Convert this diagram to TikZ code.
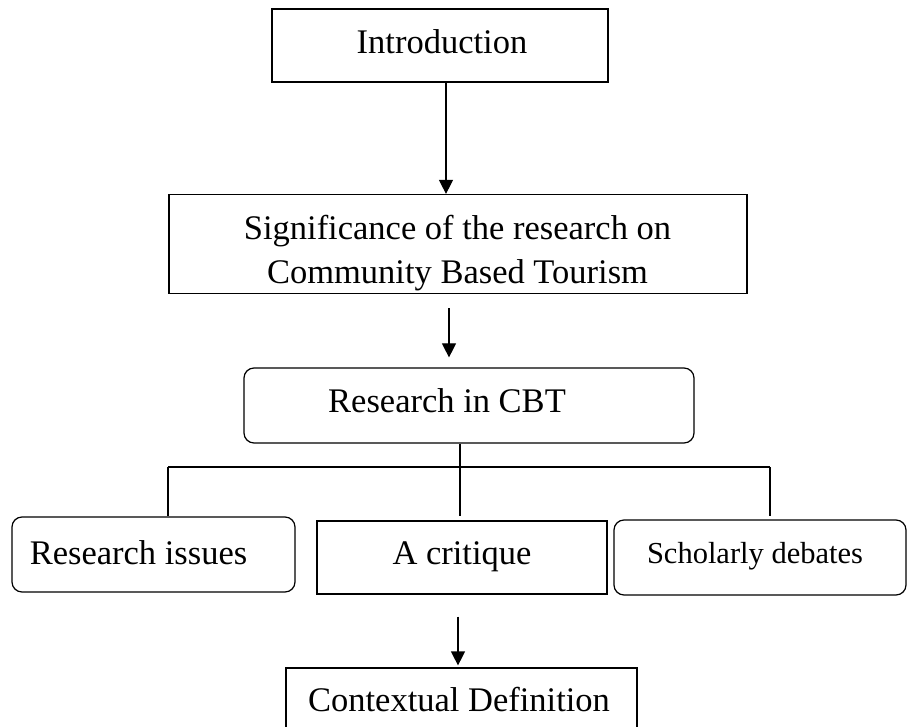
\documentclass[tikz,border=0pt]{standalone}
\usepackage{fontspec}
\setmainfont{Liberation Serif}
\usetikzlibrary{arrows.meta}
\begin{document}
\begin{tikzpicture}[x=1pt,y=-1pt,
  box/.style={draw,line width=1.2pt,inner sep=0pt},
  rbox/.style={box,rounded corners=10pt},
  txt/.style={anchor=base,inner sep=0pt,font=\fontsize{34.5}{44}\selectfont},
  smalltxt/.style={anchor=base,inner sep=0pt,font=\fontsize{30.5}{36}\selectfont},
  conn/.style={line width=1.2pt},
  arr/.style={line width=1.2pt,-{Triangle[length=14pt,width=14pt]}}]
\useasboundingbox (0,0) rectangle (908,727);
% boxes
\node[box,minimum width=336pt,minimum height=73pt] (intro) at (440,45.5) {};
\node[box,minimum width=578pt,minimum height=99pt] (sig) at (458,244) {};
\node[rbox,minimum width=450pt,minimum height=75pt] (cbt) at (469,405.5) {};
\node[rbox,minimum width=283pt,minimum height=75pt] (left) at (153.5,554.5) {};
\node[box,minimum width=290pt,minimum height=73pt] (mid) at (462,557.5) {};
\node[rbox,minimum width=292pt,minimum height=75pt] (rightb) at (760,557.5) {};
\node[box,minimum width=351pt,minimum height=92pt] (ctx) at (461.5,714) {};
% texts
\node[txt] (tintro) at (442,54) {Introduction};
\node[txt] (tsig1) at (457.5,240) {Significance of the research on};
\node[txt] (tsig2) at (457.5,284) {Community Based Tourism};
\node[txt] (tcbt) at (447,412) {Research in CBT};
\node[txt] (tleft) at (138.5,564) {Research issues};
\node[txt] (tmid) at (462,564) {A critique};
\node[smalltxt] (tright) at (755,563) {Scholarly debates};
\node[txt] (tctx) at (459,711) {Contextual Definition};
% helper coordinates
\coordinate (a1) at (446,0);
\coordinate (a2) at (449,0);
\coordinate (a3) at (458,0);
\coordinate (jl) at (168,467);
\coordinate (jm) at (460,467);
\coordinate (jr) at (770,467);
% connectors
\draw[arr] (intro.south -| a1) -- (sig.north -| a1);
\draw[arr,shorten <=14pt,shorten >=10pt] (sig.south -| a2) -- (cbt.north -| a2);
\draw[conn] (cbt.south -| jm) -- (jm);
\draw[conn] (jl) -- (jr);
\draw[conn] (jl) -- (left.north -| jl);
\draw[conn] (jm) -- ([yshift=4pt]mid.north -| jm);
\draw[conn] (jr) -- ([yshift=3pt]rightb.north -| jr);
\draw[arr,shorten <=22pt,shorten >=2pt] (mid.south -| a3) -- (ctx.north -| a3);
\end{tikzpicture}
\end{document}
